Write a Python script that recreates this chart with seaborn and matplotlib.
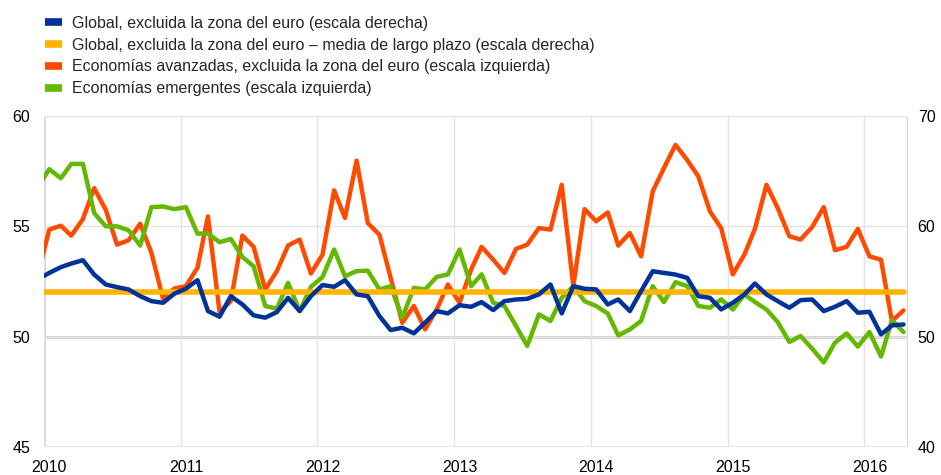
import numpy as np
import pandas as pd
import matplotlib
matplotlib.use("Agg")
import matplotlib.pyplot as plt
import matplotlib.dates as mdates
import seaborn as sns

# ---- data (monthly, mid-month; first point Dec 2009 is clipped at the left edge) ----
dates = pd.date_range("2009-12-01", periods=77, freq="MS") + pd.Timedelta(days=14)

global_ex_euro = [  # right scale
    55.18,
    55.78, 56.30, 56.63, 56.93, 55.63, 54.73, 54.49, 54.28, 53.67, 53.22, 53.07, 53.89,
    54.35, 55.12, 52.32, 51.81, 53.67, 52.92, 51.93, 51.72, 52.23, 53.52, 52.32, 53.67,
    54.68, 54.52, 55.12, 53.83, 53.67, 51.87, 50.60, 50.81, 50.30, 51.27, 52.32, 52.11,
    52.85, 52.71, 53.13, 52.41, 53.22, 53.37, 53.43, 53.83, 54.73, 52.11, 54.58, 54.34,
    54.28, 52.92, 53.37, 52.32, 54.13, 55.93, 55.78, 55.63, 55.33, 53.67, 53.52, 52.47,
    53.07, 53.83, 54.82, 53.83, 53.22, 52.62, 53.31, 53.37, 52.32, 52.71, 53.22, 52.17,
    52.25, 50.21, 51.02, 51.11,
]
long_term_mean = 54.07  # right scale

advanced_ex_euro = [  # left scale
    52.75,
    54.85, 55.03, 54.58, 55.33, 56.73, 55.75, 54.17, 54.37, 55.12, 53.80, 51.72, 52.18,
    52.29, 53.12, 55.45, 51.11, 51.61, 54.58, 54.07, 52.14, 52.97, 54.13, 54.40, 52.86,
    53.72, 56.63, 55.38, 57.98, 55.15, 54.62, 52.67, 50.63, 51.39, 50.33, 51.23, 52.36,
    51.54, 53.04, 54.07, 53.49, 52.89, 53.98, 54.17, 54.92, 54.85, 56.88, 52.29, 55.78,
    55.23, 55.63, 54.13, 54.70, 53.64, 56.58, 57.64, 58.69, 58.01, 57.26, 55.68, 54.92,
    52.82, 53.72, 54.88, 56.88, 55.83, 54.55, 54.40, 54.97, 55.87, 53.92, 54.07, 54.88,
    53.64, 53.49, 50.71, 51.19,
]

emerging = [  # left scale
    56.77,
    57.59, 57.18, 57.83, 57.83, 55.60, 55.00, 55.00, 54.82, 54.13, 55.87, 55.90, 55.78,
    55.87, 54.67, 54.67, 54.28, 54.43, 53.61, 53.19, 51.39, 51.27, 52.44, 51.16, 52.26,
    52.70, 53.95, 52.74, 52.97, 52.99, 52.14, 52.29, 50.86, 52.21, 52.14, 52.71, 52.82,
    53.95, 52.29, 52.82, 51.54, 51.39, 50.48, 49.58, 51.01, 50.71, 51.76, 52.29, 51.61,
    51.39, 51.05, 50.06, 50.33, 50.71, 52.29, 51.57, 52.47, 52.29, 51.39, 51.31, 51.69,
    51.23, 51.91, 51.57, 51.23, 50.66, 49.76, 50.03, 49.46, 48.83, 49.73, 50.15, 49.55,
    50.21, 49.10, 50.75, 50.21,
]

labels = [
    "Global, excluida la zona del euro (escala derecha)",
    "Global, excluida la zona del euro \u2013 media de largo plazo (escala derecha)",
    "Economías avanzadas, excluida la zona del euro (escala izquierda)",
    "Economías emergentes (escala izquierda)",
]
colors = ["#003299", "#FFB400", "#FF4B00", "#65B800"]
years = list(range(2010, 2017))

df = pd.DataFrame({
    "date": dates,
    "global": global_ex_euro,
    "mean": [long_term_mean] * len(dates),
    "advanced": advanced_ex_euro,
    "emerging": emerging,
})

sns.set_style("white")
plt.rcParams["font.family"] = ["Liberation Sans", "DejaVu Sans"]

fig = plt.figure(figsize=(9.41, 4.75), dpi=100)
ax = fig.add_axes([44 / 941, 1 - 447 / 475, (908 - 44) / 941, (447 - 116) / 475])
ax2 = ax.twinx()

sns.lineplot(data=df, x="date", y="advanced", ax=ax, color=colors[2], lw=3.2, label=labels[2], legend=False)
sns.lineplot(data=df, x="date", y="emerging", ax=ax, color=colors[3], lw=3.2, label=labels[3], legend=False)
sns.lineplot(data=df, x="date", y="mean", ax=ax2, color=colors[1], lw=4.0, label=labels[1], legend=False)
sns.lineplot(data=df, x="date", y="global", ax=ax2, color=colors[0], lw=3.2, label=labels[0], legend=False)

ax.set_ylim(45, 60)
ax2.set_ylim(40, 70)
ax.set_yticks([45, 50, 55, 60])
ax2.set_yticks([40, 50, 60, 70])
x0 = pd.Timestamp("2010-01-01")
x1 = pd.Timestamp("2016-04-27")
ax.set_xlim(x0, x1)

year_pos = [pd.Timestamp(f"{y}-01-01") for y in years]
ax.set_xticks(year_pos)
ax.set_xticklabels([""] * len(years))
ax.set_xticks([pd.Timestamp(f"{y}-01-15") for y in years], minor=True)
ax.set_xticklabels([str(y) for y in years], minor=True)

for a in (ax, ax2):
    a.set_xlabel("")
    a.set_ylabel("")
    for s in a.spines.values():
        s.set_visible(False)

ax.grid(True, axis="both", which="major", color="#e3e3e3", lw=1.0)
ax.set_axisbelow(True)
ax.axhline(50, color="#d4d4d4", lw=2.2, zorder=0.5)
ax.axvline(x0, color="#d4d4d4", lw=2.2, zorder=0.5)
ax.axvline(x1, color="#d4d4d4", lw=2.2, zorder=0.5)
ax.axhline(45, color="#e3e3e3", lw=1.2, zorder=0.5)

ax.tick_params(axis="both", which="both", length=0, labelsize=11.5, colors="#000000")
ax.tick_params(axis="y", pad=10)
ax.tick_params(axis="x", which="minor", pad=9)
ax2.tick_params(axis="y", length=0, labelsize=11.5, pad=7, colors="#000000")

# legend in requested order
h_left, l_left = ax.get_legend_handles_labels()
h_right, l_right = ax2.get_legend_handles_labels()
hmap = dict(zip(l_left + l_right, h_left + h_right))
handles = [hmap[l] for l in labels]
leg = fig.legend(handles, labels, loc="upper left", bbox_to_anchor=(45 / 941, 1 - 16 / 475),
                 frameon=False, fontsize=11.5, handlelength=1.05, handletextpad=0.62,
                 labelspacing=0.42, borderaxespad=0, borderpad=0)
for line in leg.get_lines():
    line.set_linewidth(5.5)
    line.set_solid_capstyle("butt")

fig.savefig("out.png", dpi=100)
